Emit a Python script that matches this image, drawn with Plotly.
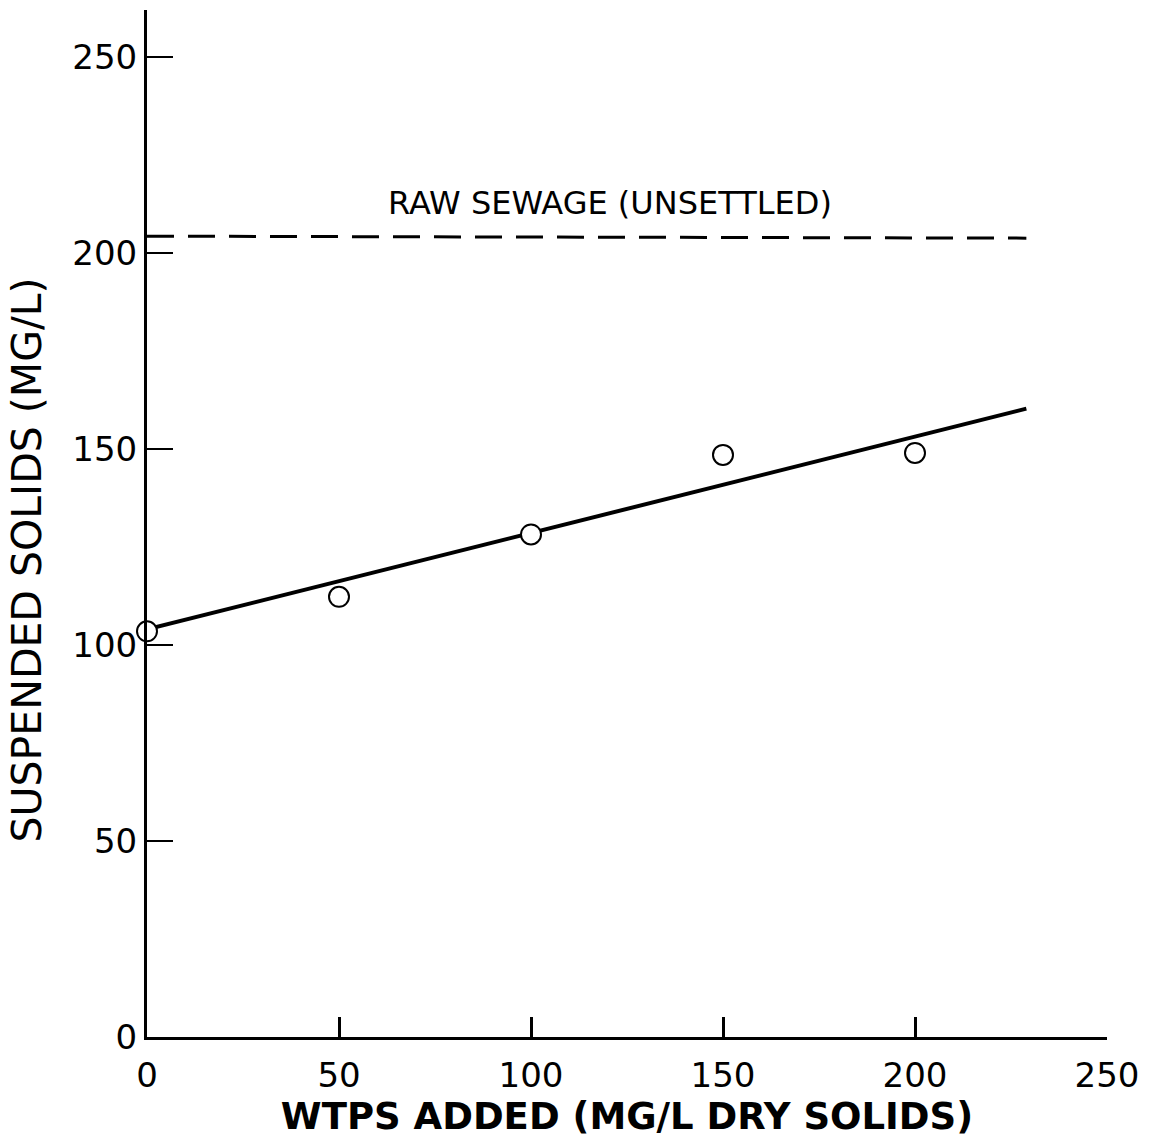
import plotly.graph_objects as go

# Measured suspended solids after adding water treatment plant sludge
wtps_added = [0, 50, 100, 150, 200]
suspended_solids = [103.5, 112.3, 128.2, 148.5, 149.0]

# Fitted trend line
fit_x = [0, 229]
fit_y = [104.0, 160.3]

# Raw sewage (unsettled) reference level
raw_x = [0, 229]
raw_y = [204.3, 203.8]

x_ticks = [0, 50, 100, 150, 200, 250]
y_ticks = [0, 50, 100, 150, 200, 250]

FONT = "DejaVu Sans"

fig = go.Figure()

fig.add_trace(go.Scatter(
    x=raw_x, y=raw_y, mode="lines",
    line=dict(color="black", width=3, dash="27px,14px"),
    showlegend=False, hoverinfo="skip",
))

fig.add_trace(go.Scatter(
    x=fit_x, y=fit_y, mode="lines",
    line=dict(color="black", width=4),
    showlegend=False, hoverinfo="skip",
))

fig.add_trace(go.Scatter(
    x=wtps_added, y=suspended_solids, mode="markers",
    marker=dict(symbol="circle", size=20, color="white",
                line=dict(color="black", width=2)),
    showlegend=False, cliponaxis=False,
))

fig.add_annotation(
    x=120.5, y=212.8, xref="x", yref="y",
    text="RAW SEWAGE (UNSETTLED)", showarrow=False,
    font=dict(family=FONT, size=32, color="black"),
)

# Vertical axis title, placed as an annotation so it can sit slightly low
fig.add_annotation(
    xref="paper", yref="paper", x=0, y=0.464,
    xshift=-120, textangle=-90, showarrow=False,
    xanchor="center", yanchor="middle",
    text="SUSPENDED SOLIDS (MG/L)",
    font=dict(family=FONT, size=41, color="black"),
)

fig.update_layout(
    width=1155, height=1139,
    margin=dict(l=147, r=48, t=10, b=102),
    paper_bgcolor="white", plot_bgcolor="white",
    font=dict(family=FONT, color="black"),
)

fig.update_xaxes(
    range=[0, 250], tickvals=x_ticks, ticktext=[str(v) for v in x_ticks],
    showline=True, linecolor="black", linewidth=3,
    ticks="inside", ticklen=20, tickwidth=3, tickcolor="black",
    showgrid=False, zeroline=False, ticklabelstandoff=6,
    tickfont=dict(family=FONT, size=34, color="black"),
    title=dict(text="<b>WTPS ADDED (MG/L DRY SOLIDS)</b>",
               font=dict(family=FONT, size=37, color="black"), standoff=8),
)

fig.update_yaxes(
    range=[0, 262], tickvals=y_ticks, ticktext=[str(v) for v in y_ticks],
    showline=True, linecolor="black", linewidth=3,
    ticks="inside", ticklen=26, tickwidth=2, tickcolor="black",
    showgrid=False, zeroline=False,
    tickfont=dict(family=FONT, size=34, color="black"),
)

fig.write_html("out.html")
